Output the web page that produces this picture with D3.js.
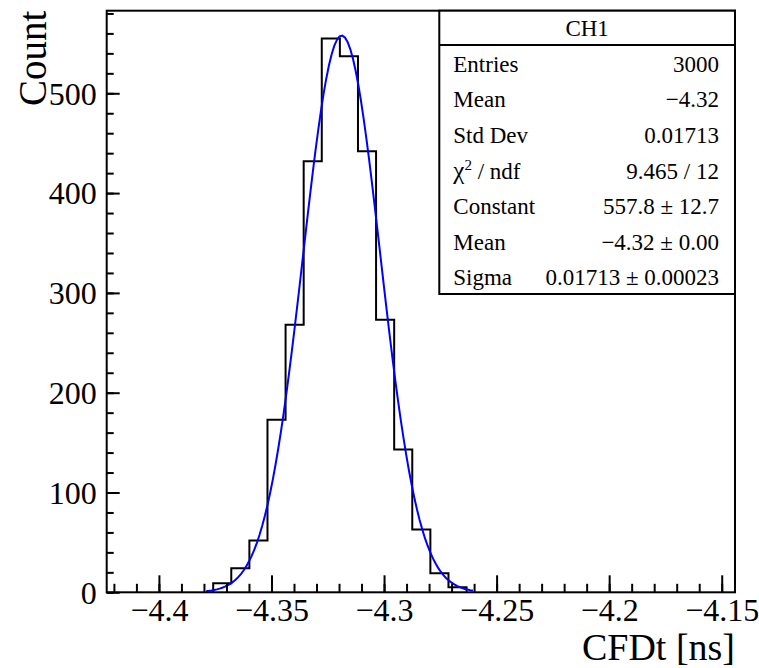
<!DOCTYPE html>
<html><head><meta charset="utf-8">
<script src="https://cdn.jsdelivr.net/npm/d3@7"></script>
<style>
body{margin:0;background:#fff}
svg{display:block}
text{font-family:"Liberation Serif","DejaVu Serif",serif;fill:#000}
</style>
</head><body>
<svg id="c" width="759" height="668"></svg>
<script>
// CFD time histogram for channel CH1 with a Gaussian fit
const binLow = -4.3759;
const binWidth = 0.00804;
const binCounts = [9, 24, 52, 173, 268, 432, 555, 537, 442, 273, 143, 63, 19, 5];
const xDomain = [-4.4232, -4.1441];
const xMajorTicks = [-4.4, -4.35, -4.3, -4.25, -4.2, -4.15];
const yMajorTicks = [0, 100, 200, 300, 400, 500];
const fitConstant = 557.8;
const fitMean = -4.3188;
const fitSigma = 0.01713;
const fitRange = [-4.379, -4.2605];
const statTitle = "CH1";
const statLabels = ["Entries", "Mean", "Std Dev", "chi2", "Constant", "Mean", "Sigma"];
const statValues = ["3000", "\u22124.32", "0.01713", "9.465 / 12", "557.8 \u00b1 12.7", "\u22124.32 \u00b1 0.00", "0.01713 \u00b1 0.00023"];
const xTitle = "CFDt [ns]";
const yTitle = "Count";

const frame = {left: 106.7, right: 735, top: 10.7, bottom: 592.3};
const svg = d3.select("#c");

const x = d3.scaleLinear().domain(xDomain).range([frame.left, frame.right]);
const y = d3.scaleLinear().domain([0, 1.05 * d3.max(binCounts)]).range([frame.bottom, frame.top]);

const minus = s => s.replace("-", "\u2212");

// histogram outline
const pts = [[binLow, 0]];
binCounts.forEach((c, i) => {
  const a = binLow + i * binWidth, b = a + binWidth;
  pts.push([a, c], [b, c]);
});
pts.push([binLow + binCounts.length * binWidth, 0]);
svg.append("path")
  .attr("d", d3.line().x(d => x(d[0])).y(d => y(d[1]))(pts))
  .attr("fill", "none").attr("stroke", "#000").attr("stroke-width", 2);

// Gaussian fit curve
const gauss = v => fitConstant * Math.exp(-0.5 * ((v - fitMean) / fitSigma) ** 2);
const fitPts = d3.range(101).map(i => fitRange[0] + i * (fitRange[1] - fitRange[0]) / 100);
svg.append("path")
  .attr("d", d3.line().x(v => x(v)).y(v => y(gauss(v)))(fitPts))
  .attr("fill", "none").attr("stroke", "#0000ff").attr("stroke-width", 2);

// frame
svg.append("rect")
  .attr("x", frame.left).attr("y", frame.top)
  .attr("width", frame.right - frame.left).attr("height", frame.bottom - frame.top)
  .attr("fill", "none").attr("stroke", "#000").attr("stroke-width", 2);

// x axis ticks (inward)
const xMinor = d3.range(0, 30).map(i => +(-4.42 + i * 0.01).toFixed(3)).filter(v => v >= xDomain[0] && v <= xDomain[1]);
const gx = svg.append("g").attr("transform", `translate(0,${frame.bottom})`);
gx.call(d3.axisBottom(x).tickValues(xMinor).tickSize(-8.5).tickFormat(""));
gx.call(g => g.selectAll(".domain").remove());
const gxM = svg.append("g").attr("transform", `translate(0,${frame.bottom})`);
gxM.call(d3.axisBottom(x).tickValues(xMajorTicks).tickSize(-17).tickPadding(0).tickFormat(d => minus(d3.format("")(d))));
gxM.select(".domain").remove();
svg.selectAll(".tick line").attr("stroke", "#000").attr("stroke-width", 2);
gxM.selectAll("text").attr("font-size", 32).attr("font-family", "Liberation Serif")
  .attr("y", 29).attr("dy", 0).attr("fill", "#000");

// y axis ticks (inward)
const yMinor = d3.range(0, 30).map(i => i * 20).filter(v => v <= y.domain()[1]);
const gy = svg.append("g").attr("transform", `translate(${frame.left},0)`);
gy.call(d3.axisLeft(y).tickValues(yMinor).tickSize(-7).tickFormat(""));
gy.select(".domain").remove();
const gyM = svg.append("g").attr("transform", `translate(${frame.left},0)`);
gyM.call(d3.axisLeft(y).tickValues(yMajorTicks).tickSize(-13).tickFormat(d3.format("")));
gyM.select(".domain").remove();
svg.selectAll(".tick line").attr("stroke", "#000").attr("stroke-width", 2);
gyM.selectAll("text").attr("font-size", 32).attr("font-family", "Liberation Serif")
  .attr("x", -10).attr("dy", "0.34em").attr("fill", "#000");

// axis titles
svg.append("text").attr("x", frame.right).attr("y", 660)
  .attr("text-anchor", "end").attr("font-size", 38).text(xTitle);
svg.append("text").attr("transform", `translate(46,${frame.top}) rotate(-90)`)
  .attr("text-anchor", "end").attr("font-size", 39).text(yTitle);

// statistics box
const box = {left: 439.3, right: frame.right, top: frame.top, bottom: 294, head: 45};
const sb = svg.append("g");
sb.append("rect").attr("x", box.left).attr("y", box.top)
  .attr("width", box.right - box.left).attr("height", box.bottom - box.top)
  .attr("fill", "#fff").attr("stroke", "#000").attr("stroke-width", 2);
sb.append("line").attr("x1", box.left).attr("x2", box.right)
  .attr("y1", box.head).attr("y2", box.head).attr("stroke", "#000").attr("stroke-width", 2);
sb.append("text").attr("x", (box.left + box.right) / 2).attr("y", (box.top + box.head) / 2 + 8)
  .attr("text-anchor", "middle").attr("font-size", 23).text(statTitle);
const rowH = (box.bottom - box.head) / statLabels.length;
statLabels.forEach((lab, i) => {
  const yy = box.head + rowH * (i + 0.5) + 9;
  const t = sb.append("text").attr("x", box.left + 14).attr("y", yy).attr("font-size", 23);
  if (lab === "chi2") {
    t.append("tspan").attr("font-size", 25).text("\u03c7");
    t.append("tspan").attr("font-size", 15).attr("dy", -9).text("2");
    t.append("tspan").attr("dy", 9).text(" / ndf");
  } else {
    t.text(lab);
  }
  sb.append("text").attr("x", box.right - 16).attr("y", yy)
    .attr("text-anchor", "end").attr("font-size", 23).text(statValues[i]);
});
</script>
</body></html>
